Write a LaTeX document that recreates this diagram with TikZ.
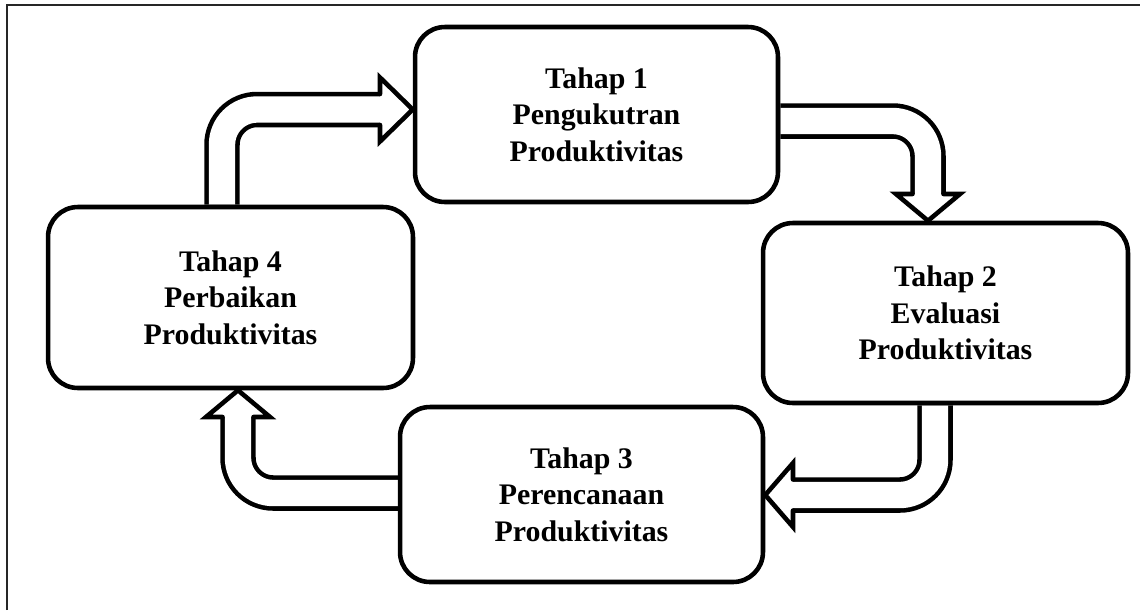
\documentclass[tikz,border=0pt]{standalone}
\usepackage{fontspec}
\setmainfont{Liberation Serif}
\usetikzlibrary{backgrounds}
\begin{document}
\begin{tikzpicture}[x=0.02cm,y=-0.02cm,
  stage/.style={draw=black, fill=white, line width=2.6pt, rounded corners=17pt,
    align=center, inner sep=0pt,
    font=\bfseries\fontsize{17}{20.8}\selectfont},
  shaft/.style={draw=black, line width=2.6pt, double=white, double distance=15pt,
    rounded corners=20pt},
  headtip/.style={draw=black, fill=white, line width=2.6pt, line join=miter, line cap=round}
]
\useasboundingbox (0,0) rectangle (1140,610);
\draw[line width=0.9pt, black!85] (7,610) -- (7,5) -- (1140,5);

\node[stage, minimum width=7.26cm, minimum height=3.5cm] (b1) at (596.5,114.5)
  {Tahap 1\\Pengukutran\\Produktivitas};
\node[stage, minimum width=7.3cm, minimum height=3.6cm] (b2) at (945.5,313)
  {Tahap 2\\Evaluasi\\Produktivitas};
\node[stage, minimum width=7.26cm, minimum height=3.5cm] (b3) at (581.5,494.5)
  {Tahap 3\\Perencanaan\\Produktivitas};
\node[stage, minimum width=7.3cm, minimum height=3.62cm] (b4) at (230.5,297.5)
  {Tahap 4\\Perbaikan\\Produktivitas};

\begin{scope}[on background layer]
  % Tahap 4 -> Tahap 1
  \draw[shaft] (222,0 |- b4.north) -- (222,109.5) -- (381,109.5);
  \draw[headtip] (380,94) -- (380,77.5) -- (b1.west |- 0,109.5) -- (380,141.5) -- (380,125);
  % Tahap 1 -> Tahap 2
  \draw[shaft] (b1.east |- 0,121) -- (928,121) -- (928,195);
  \draw[headtip] (912.5,194) -- (896,194) -- (928,0 |- b2.north) -- (960,194) -- (943.5,194);
  % Tahap 2 -> Tahap 3
  \draw[shaft] (935,0 |- b2.south) -- (935,495) -- (792,495);
  \draw[headtip] (793,479.5) -- (793,463) -- (b3.east |- 0,495) -- (793,527) -- (793,510.5);
  % Tahap 3 -> Tahap 4
  \draw[shaft] (b3.west |- 0,493) -- (238,493) -- (238,416);
  \draw[headtip] (253.5,417) -- (270,417) -- (238,0 |- b4.south) -- (206,417) -- (222.5,417);
\end{scope}
\end{tikzpicture}
\end{document}
